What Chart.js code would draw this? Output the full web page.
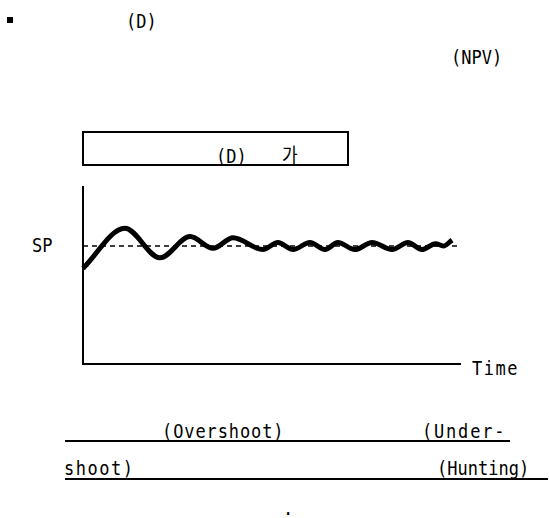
<!DOCTYPE html>
<html>
<head>
<meta charset="utf-8">
<script src="https://cdn.jsdelivr.net/npm/chart.js@4"></script>
<style>
  html, body { margin:0; padding:0; background:#fff; }
  body { width:549px; height:518px; position:relative; overflow:hidden;
         font-family:"DejaVu Sans Mono","Noto Sans CJK KR",monospace; font-size:17px; color:#000; }
  .t { position:absolute; line-height:20px; white-space:pre; transform:scale(1,1.18); transform-origin:50% 50%; }
  .u { position:absolute; height:2px; background:#000; }
  #bullet { position:absolute; left:7px; top:17px; width:6px; height:6px; background:#000; }
  #box { position:absolute; left:82px; top:131px; width:263px; height:31px; border:2px solid #000; }
  #wrap { position:absolute; left:0; top:170px; width:549px; height:210px; }
</style>
</head>
<body>
<div id="bullet"></div>
<div class="t" style="left:126px;top:11px;">(D)</div>
<div class="t" style="left:451px;top:47px;">(NPV)</div>
<div id="box"></div>
<div class="t" style="left:216px;top:146px;">(D)</div>
<div class="t" style="left:282px;top:145px;font-family:'Noto Sans CJK KR';color:#000;">가</div>
<div class="t" style="left:32px;top:235px;">SP</div>
<div class="t" style="left:472px;top:358px;letter-spacing:1.5px;">Time</div>
<div class="t" style="left:162px;top:421px;letter-spacing:0.9px;">(Overshoot)</div>
<div class="t" style="left:422px;top:421px;letter-spacing:1.8px;">(Under-</div>
<div class="u" style="left:65px;top:440px;width:445px;"></div>
<div class="t" style="left:64px;top:458px;letter-spacing:1.5px;">shoot)</div>
<div class="t" style="left:437px;top:458px;">(Hunting)</div>
<div class="u" style="left:65px;top:478px;width:483px;"></div>
<div class="t" style="left:283px;top:498px;">.</div>
<div id="wrap"><canvas id="c" width="549" height="210"></canvas></div>
<script>
// Process response over time (SP = 1.0)
const times    = [0, 11.1, 20.4, 28.4, 34.5, 39.8, 47.7, 51.7, 55.7, 60.2, 64.2, 67.6, 72.1, 76.7, 82.0, 86.2, 89.9, 93.5, 95.6, 97.9];
const response = [0.81, 1.15, 0.90, 1.08, 0.98, 1.07, 0.97, 1.03, 0.97, 1.03, 0.97, 1.03, 0.97, 1.03, 0.97, 1.03, 0.97, 1.02, 1.00, 1.05];
const spTimes  = [0, 100];
const spValue  = [1, 1];

const respData = times.map((t, i) => ({ x: t, y: response[i] }));
const spData = spTimes.map((t, i) => ({ x: t, y: spValue[i] }));

new Chart(document.getElementById('c'), {
  type: 'line',
  data: {
    datasets: [
      { data: spData, borderColor: '#000', borderWidth: 1.5, borderDash: [5, 4],
        pointRadius: 0, fill: false, clip: false },
      { data: respData, borderColor: '#000', borderWidth: 5, pointRadius: 0,
        cubicInterpolationMode: 'monotone', fill: false, clip: false, borderCapStyle: 'butt' }
    ]
  },
  options: {
    responsive: false,
    animation: false,
    layout: { padding: { left: 83, right: 89, top: 17, bottom: 16 } },
    plugins: { legend: { display: false }, tooltip: { enabled: false } },
    scales: {
      x: { type: 'linear', min: 0, max: 100,
           grid: { display: false, drawTicks: false, tickLength: 0 },
           ticks: { display: false },
           border: { display: true, color: '#000', width: 2 } },
      y: { type: 'linear', min: 0, max: 1.5,
           grid: { display: false, drawTicks: false, tickLength: 0 },
           ticks: { display: false },
           border: { display: true, color: '#000', width: 2 } }
    }
  }
});
</script>
</body>
</html>
